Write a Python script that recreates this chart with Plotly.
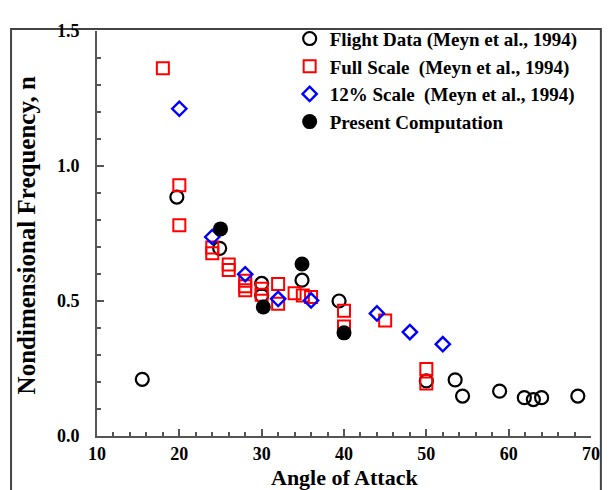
import plotly.graph_objects as go

# Flight Data (Meyn et al., 1994)
flight_x = [15.5, 19.7, 24.9, 30.0, 30.0, 34.9, 39.4, 50.0, 53.5, 54.4, 58.9, 61.9, 63.0, 64.0, 68.4]
flight_y = [0.21, 0.885, 0.695, 0.565, 0.52, 0.577, 0.50, 0.204, 0.208, 0.148, 0.166, 0.142, 0.135, 0.142, 0.148]

# Full Scale (Meyn et al., 1994)
full_x = [18.0, 20.0, 20.0, 24.0, 24.0, 26.0, 26.0, 28.0, 28.0, 28.0, 30.0, 30.0, 32.0, 32.0, 34.0, 35.0, 36.0, 40.0, 40.0, 45.0, 50.0, 50.0]
full_y = [1.362, 0.929, 0.781, 0.698, 0.677, 0.635, 0.615, 0.575, 0.555, 0.54, 0.545, 0.523, 0.563, 0.49, 0.529, 0.52, 0.515, 0.464, 0.406, 0.428, 0.248, 0.194]

# 12% Scale (Meyn et al., 1994)
scale12_x = [20.0, 24.0, 28.0, 32.0, 36.0, 44.0, 48.0, 52.0]
scale12_y = [1.212, 0.737, 0.599, 0.508, 0.502, 0.454, 0.385, 0.34]

# Present Computation
comp_x = [25.0, 30.2, 34.9, 40.0]
comp_y = [0.767, 0.478, 0.637, 0.382]

FONT = "Liberation Serif, Times New Roman, serif"
BOLD = dict(family=FONT, color="black", weight="bold")

fig = go.Figure()
fig.add_trace(go.Scatter(x=flight_x, y=flight_y, mode="markers",
                         name="Flight Data (Meyn et al., 1994)",
                         marker=dict(symbol="circle-open", size=13, color="black", line=dict(width=2.2, color="black"))))
fig.add_trace(go.Scatter(x=full_x, y=full_y, mode="markers",
                         name="Full Scale  (Meyn et al., 1994)",
                         marker=dict(symbol="square-open", size=12, color="red", line=dict(width=2, color="red"))))
fig.add_trace(go.Scatter(x=scale12_x, y=scale12_y, mode="markers",
                         name="12% Scale  (Meyn et al., 1994)",
                         marker=dict(symbol="diamond-open", size=11, color="blue", line=dict(width=2.4, color="blue"))))
fig.add_trace(go.Scatter(x=comp_x, y=comp_y, mode="markers",
                         name="Present Computation",
                         marker=dict(symbol="circle", size=15, color="black", line=dict(width=0))))

axis_color = "#555555"
fig.update_layout(
    width=604, height=482,
    margin=dict(l=89, r=15, t=12, b=54),
    paper_bgcolor="white", plot_bgcolor="white",
    font=dict(family=FONT, size=16, color="black"),
    showlegend=True,
    legend=dict(x=0.39, y=1.028, xanchor="left", yanchor="top",
                bgcolor="rgba(0,0,0,0)", borderwidth=0,
                font=dict(**BOLD, size=19),
                itemwidth=30, tracegroupgap=0),
    xaxis=dict(range=[10, 70], tickvals=[10, 20, 30, 40, 50, 60, 70],
               showgrid=False, zeroline=False, showline=True, linecolor=axis_color, linewidth=2,
               ticks="inside", ticklen=7, tickwidth=1.5, tickcolor=axis_color,
               minor=dict(dtick=2, ticks="inside", ticklen=4, tickwidth=1.5, tickcolor=axis_color),
               tickfont=dict(**BOLD, size=18),
               ticklabelstandoff=0),
    yaxis=dict(range=[0, 1.5], tickvals=[0, 0.5, 1.0, 1.5], tickformat=".1f",
               showgrid=False, zeroline=False, showline=True, linecolor=axis_color, linewidth=2,
               ticks="inside", ticklen=7, tickwidth=1.5, tickcolor=axis_color,
               minor=dict(dtick=0.1, ticks="inside", ticklen=4, tickwidth=1.5, tickcolor=axis_color),
               tickfont=dict(**BOLD, size=18),
               ticklabelstandoff=12),
    annotations=[
        dict(text="Angle of Attack", xref="paper", yref="paper", x=0.5, y=-0.066,
             xanchor="center", yanchor="top", showarrow=False,
             font=dict(**BOLD, size=22)),
        dict(text="Nondimensional Frequency, n", xref="paper", yref="paper", x=-0.142, y=0.495,
             xanchor="center", yanchor="middle", textangle=-90, showarrow=False,
             font=dict(**BOLD, size=25)),
    ],
    shapes=[
        dict(type="rect", xref="paper", yref="paper", x0=-0.174, x1=1.02, y0=-0.2, y1=1.005,
             line=dict(color="#444444", width=2), fillcolor="rgba(0,0,0,0)", layer="below"),
    ],
)

fig.write_html("out.html")
